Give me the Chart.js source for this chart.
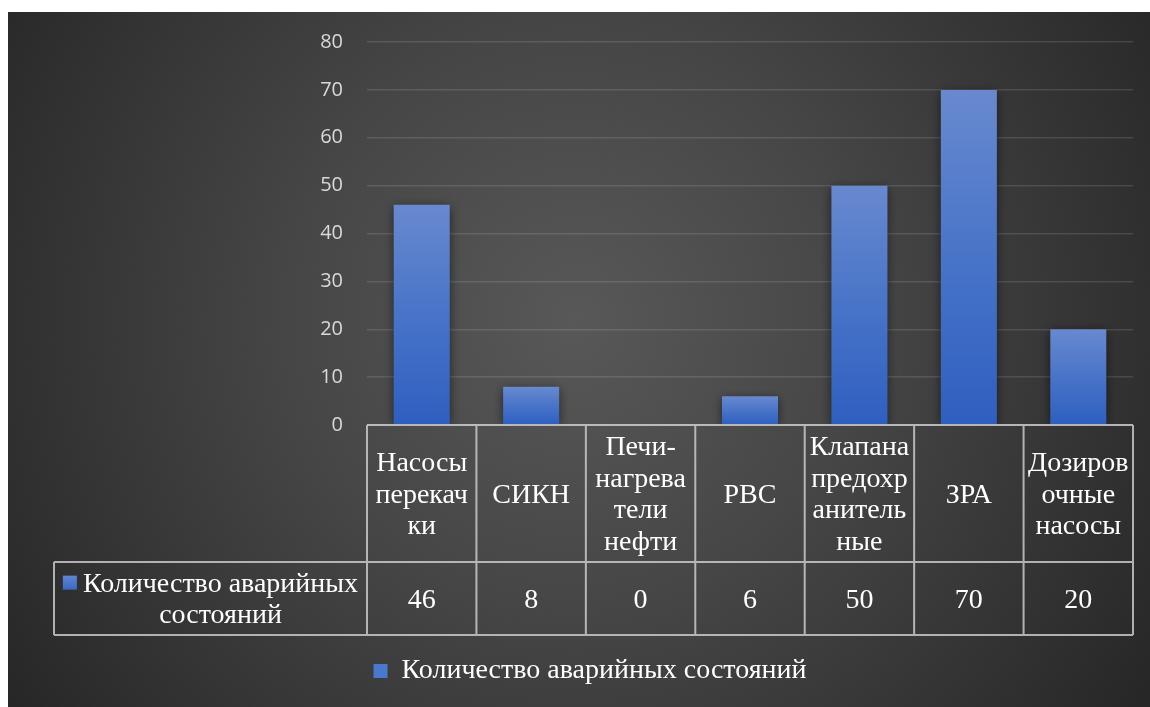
<!DOCTYPE html>
<html>
<head>
<meta charset="utf-8">
<script src="https://cdn.jsdelivr.net/npm/chart.js"></script>
<style>
html, body { margin: 0; padding: 0; background: #fff; }
#cadre { width: 1150px; height: 707px; position: relative; }
</style>
</head>
<body>
<div id="cadre"><canvas id="graph"></canvas></div>
<script>
// Données du graphique
var categories = [
    ["Насосы", "перекач", "ки"],
    ["СИКН"],
    ["Печи-", "нагрева", "тели", "нефти"],
    ["РВС"],
    ["Клапана", "предохр", "анитель", "ные"],
    ["ЗРА"],
    ["Дозиров", "очные", "насосы"]
];
var valeurs = [46, 8, 0, 6, 50, 70, 20];
var nomSerie = "Количество аварийных состояний";
var nomSerieLignes = ["Количество аварийных", "состояний"];
var yMin = 0;
var yMax = 80;
var yPas = 10;

var policeSerif = '"Liberation Serif", "Times New Roman", serif';
var bleu = '#4a78cc';

// Dégradé de chaque barre (haut clair, bas foncé)
function couleurBarre(context) {
    var chart = context.chart;
    if (!chart.chartArea || context.type !== 'data') return bleu;
    var ys = chart.scales.y;
    var yTop = ys.getPixelForValue(context.raw);
    var yBase = ys.getPixelForValue(0);
    if (yBase - yTop < 1) return bleu;
    var g = chart.ctx.createLinearGradient(0, yTop, 0, yBase);
    g.addColorStop(0, '#6889cf');
    g.addColorStop(0.5, '#4874c8');
    g.addColorStop(1, '#2e5fc0');
    return g;
}

// Fond sombre avec dégradé radial
var pluginFond = {
    id: 'fond',
    beforeDraw: function(chart) {
        var ctx = chart.ctx;
        ctx.save();
        ctx.fillStyle = '#ffffff';
        ctx.fillRect(0, 0, chart.width, chart.height);
        var g = ctx.createRadialGradient(575, 320, 0, 575, 320, 720);
        g.addColorStop(0, '#585858');
        g.addColorStop(0.4, '#464646');
        g.addColorStop(1, '#242424');
        ctx.fillStyle = g;
        ctx.fillRect(8, 12, chart.width - 8, chart.height - 12);
        ctx.restore();
    }
};

// Ombre des barres
var pluginOmbre = {
    id: 'ombre',
    beforeDatasetsDraw: function(chart) {
        var ctx = chart.ctx;
        ctx.save();
        ctx.shadowColor = 'rgba(0,0,0,0.55)';
        ctx.shadowBlur = 10;
        ctx.shadowOffsetX = 0;
        ctx.shadowOffsetY = 2;
    },
    afterDatasetsDraw: function(chart) {
        chart.ctx.restore();
    }
};

// Tableau de données sous l'axe X
var pluginTableau = {
    id: 'tableau',
    afterDraw: function(chart) {
        var ctx = chart.ctx;
        var xs = chart.scales.x;
        var ys = chart.scales.y;
        var ca = chart.chartArea;
        var labels = chart.data.labels;
        var data = chart.data.datasets[0].data;
        var n = labels.length;
        var larg = (ca.right - ca.left) / n;
        var yHaut = ys.getPixelForValue(0);
        var yMil = yHaut + 137;
        var yBas = yMil + 73;
        var xGauche = 54;
        var hLigne = 31.7;

        ctx.save();
        ctx.strokeStyle = 'rgba(210,210,210,0.8)';
        ctx.lineWidth = 2;
        ctx.beginPath();
        ctx.moveTo(ca.left, yHaut); ctx.lineTo(ca.right, yHaut);
        ctx.moveTo(xGauche, yMil); ctx.lineTo(ca.right, yMil);
        ctx.moveTo(xGauche, yBas); ctx.lineTo(ca.right, yBas);
        ctx.moveTo(xGauche, yMil); ctx.lineTo(xGauche, yBas);
        for (var i = 0; i <= n; i++) {
            var xb = ca.left + larg * i;
            ctx.moveTo(xb, yHaut); ctx.lineTo(xb, yBas);
        }
        ctx.stroke();

        ctx.fillStyle = '#ffffff';
        ctx.font = '28px ' + policeSerif;
        ctx.textAlign = 'center';
        ctx.textBaseline = 'alphabetic';
        var cHaut = (yHaut + yMil) / 2;
        var cBas = (yMil + yBas) / 2;
        for (var j = 0; j < n; j++) {
            var cx = xs.getPixelForValue(j);
            var lignes = labels[j];
            for (var k = 0; k < lignes.length; k++) {
                var y = cHaut + (k - (lignes.length - 1) / 2) * hLigne + 9;
                ctx.fillText(lignes[k], cx, y);
            }
            ctx.fillText(String(data[j]), cx, cBas + 9);
        }

        // cellule de la légende
        var cxL = (xGauche + ca.left) / 2 + 10;
        for (var m = 0; m < nomSerieLignes.length; m++) {
            var yl = cBas + (m - (nomSerieLignes.length - 1) / 2) * hLigne + 9;
            ctx.fillText(nomSerieLignes[m], cxL, yl);
        }
        var w1 = ctx.measureText(nomSerieLignes[0]).width;
        var yCarre = cBas - hLigne / 2 + 9 - 16;
        var gc = ctx.createLinearGradient(0, yCarre, 0, yCarre + 14);
        gc.addColorStop(0, '#5f86d2');
        gc.addColorStop(1, '#3a68c4');
        ctx.fillStyle = gc;
        ctx.fillRect(cxL - w1 / 2 - 20, yCarre, 14, 14);
        ctx.restore();
    }
};

var config = {
    type: 'bar',
    data: {
        labels: categories,
        datasets: [{
            label: nomSerie,
            data: valeurs,
            backgroundColor: couleurBarre,
            borderWidth: 0,
            barPercentage: 0.512,
            categoryPercentage: 1
        }]
    },
    options: {
        responsive: false,
        animation: false,
        layout: {
            padding: { left: 47, right: 17, top: 42, bottom: 12 }
        },
        scales: {
            x: {
                ticks: { display: false },
                grid: { display: false },
                border: { display: false },
                afterFit: function(scale) { scale.height = 212; }
            },
            y: {
                min: yMin,
                max: yMax,
                ticks: {
                    stepSize: yPas,
                    padding: 24,
                    color: '#d9d9d9',
                    font: { family: '"Open Sans", sans-serif', size: 20 }
                },
                grid: {
                    color: 'rgba(255,255,255,0.12)',
                    lineWidth: 1.5,
                    drawTicks: false
                },
                border: { display: false },
                afterFit: function(scale) { scale.width = 320; }
            }
        },
        plugins: {
            tooltip: { enabled: false },
            legend: {
                position: 'bottom',
                labels: {
                    color: '#ffffff',
                    boxWidth: 14,
                    boxHeight: 14,
                    padding: 20,
                    font: { family: policeSerif, size: 28 },
                    generateLabels: function(chart) {
                        return [{
                            text: chart.data.datasets[0].label,
                            fillStyle: bleu,
                            strokeStyle: bleu,
                            lineWidth: 0,
                            fontColor: '#ffffff',
                            datasetIndex: 0
                        }];
                    }
                }
            }
        }
    },
    plugins: [pluginFond, pluginOmbre, pluginTableau]
};

var canvas = document.getElementById('graph');
canvas.width = 1150;
canvas.height = 707;
new Chart(canvas.getContext('2d'), config);
</script>
</body>
</html>
